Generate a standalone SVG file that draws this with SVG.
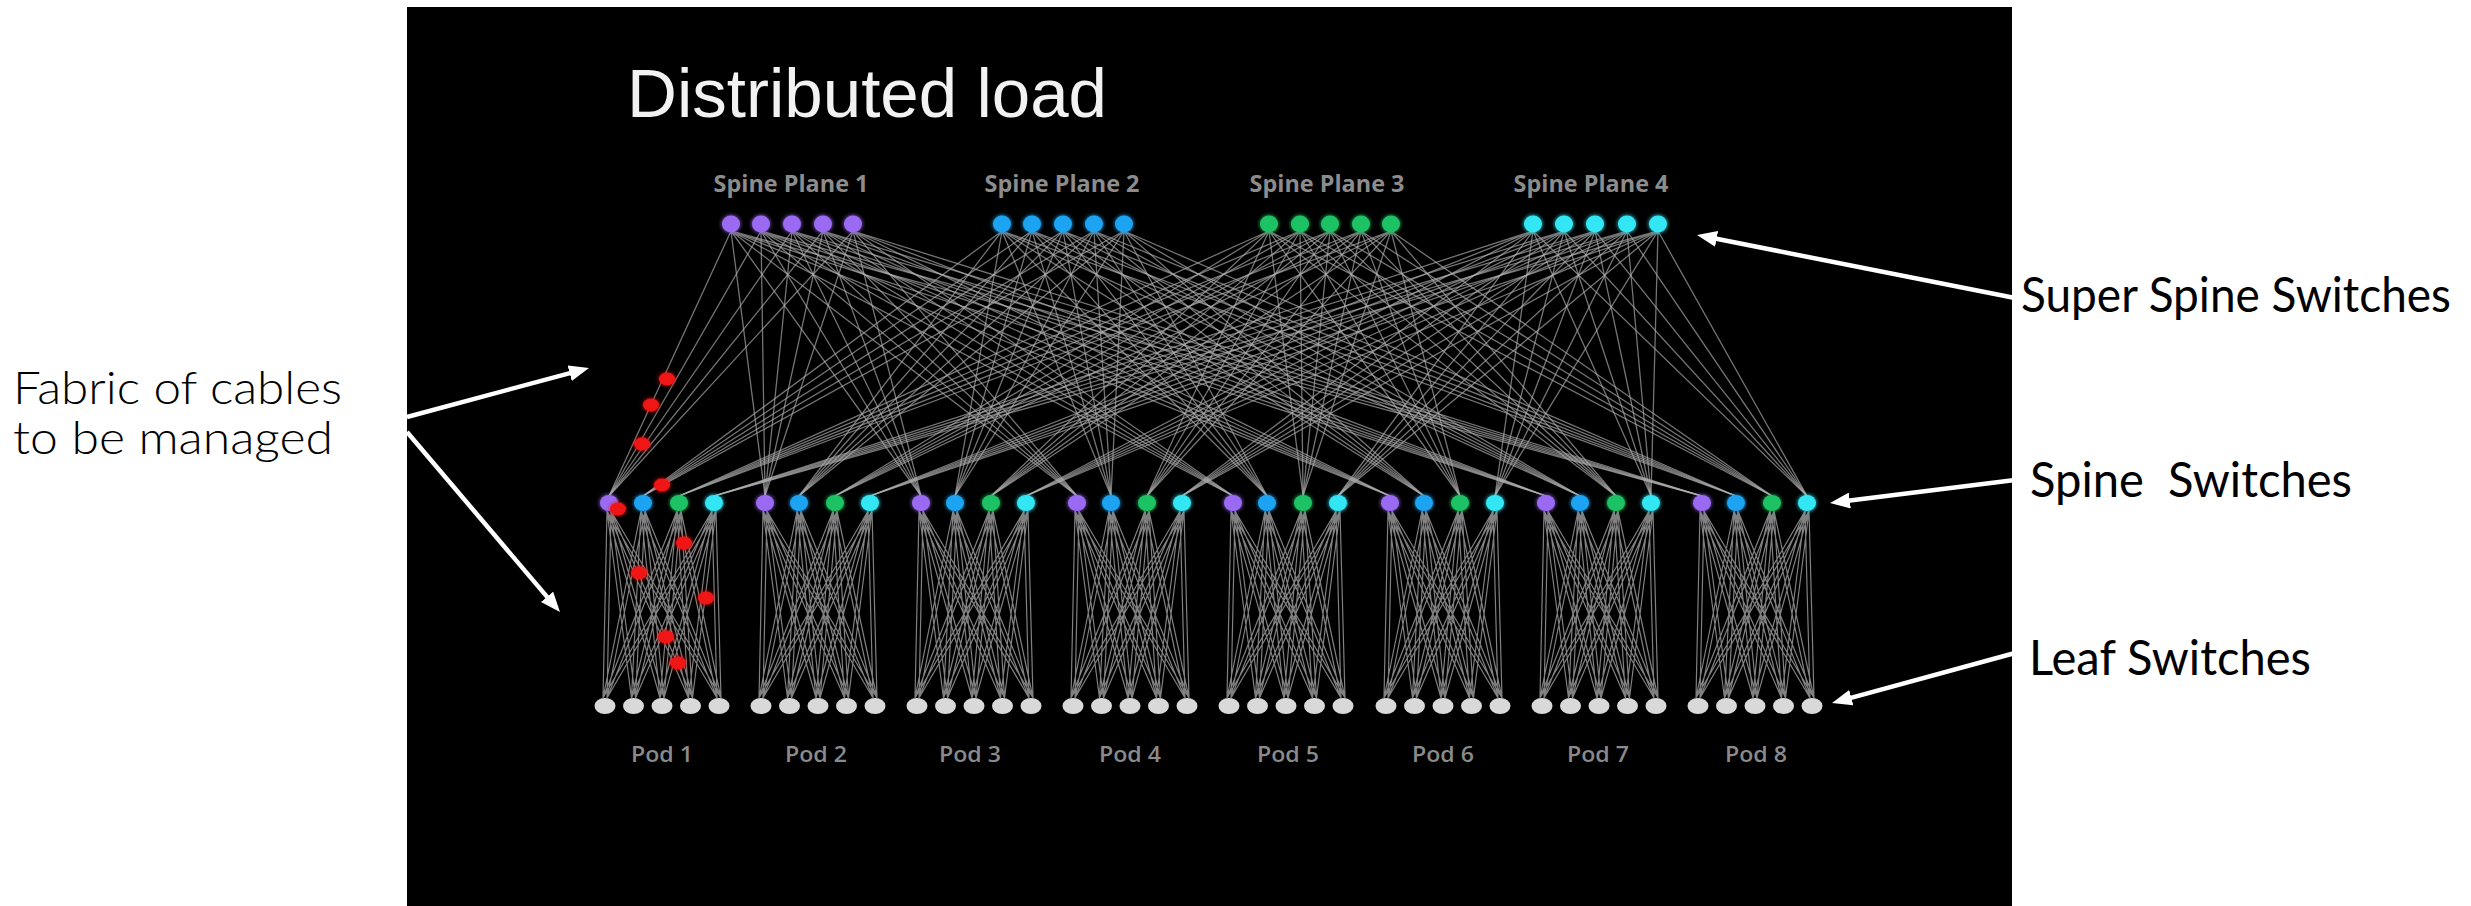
<svg xmlns="http://www.w3.org/2000/svg" xmlns:xlink="http://www.w3.org/1999/xlink" width="2471" height="906" viewBox="0 0 2471 906">
  <defs>
    <style>
      .cab{stroke:#b0b0b0;stroke-width:1.3;stroke-opacity:.66;fill:none;stroke-linecap:round}
      .mesh{stroke:#d0d0d0;stroke-width:1.2;stroke-opacity:.62;fill:none}
      .c1{fill:#9a6af2}
      .c2{fill:#1fa3f2}
      .c3{fill:#1fc264}
      .c4{fill:#33e6f4}
      .leaf{fill:#d9d9d9}
      .fault{fill:#f01414}
      .plane{font-family:"Open Sans","Liberation Sans",sans-serif;font-weight:700;font-size:23px;fill:#8c8c8c;text-anchor:middle}
      .pod{font-family:"Open Sans","Liberation Sans",sans-serif;font-weight:600;font-size:21px;fill:#8a8a8a;text-anchor:middle}
      .title{font-family:"Liberation Sans",Arial,sans-serif;font-size:69px;fill:#f2f2f2}
      .callout{font-family:Lato,"Open Sans",sans-serif;font-size:48px;fill:#000}
      .callout-light{font-family:Lato,"Open Sans",sans-serif;font-weight:300;font-size:46px;fill:#000}
      .arrow{stroke:#fff;stroke-width:4.5;fill:none;marker-end:url(#head)}
    </style>
    <marker id="head" markerUnits="userSpaceOnUse" markerWidth="20" markerHeight="16" refX="8" refY="8" orient="auto">
      <path d="M0,0 L20,8 L0,16 z" fill="#fff"/>
    </marker>
    <filter id="glow" x="-20%" y="-50%" width="140%" height="200%">
      <feGaussianBlur stdDeviation="2.2" result="b"/>
      <feMerge><feMergeNode in="b"/><feMergeNode in="SourceGraphic"/></feMerge>
    </filter>
    <!-- spine-to-leaf wiring of one pod, drawn around the pod centre (x = 0) -->
    <path id="podmesh" class="mesh" d="M-55 511L-59 698M-51 511L-55 698M-55 511L-30.5 698M-51 511L-26.5 698M-55 511L-2 698M-51 511L2 698M-55 511L26.5 698M-51 511L30.5 698M-55 511L55 698M-51 511L59 698M-21 511L-59 698M-17 511L-55 698M-21 511L-30.5 698M-17 511L-26.5 698M-21 511L-2 698M-17 511L2 698M-21 511L26.5 698M-17 511L30.5 698M-21 511L55 698M-17 511L59 698M15 511L-59 698M19 511L-55 698M15 511L-30.5 698M19 511L-26.5 698M15 511L-2 698M19 511L2 698M15 511L26.5 698M19 511L30.5 698M15 511L55 698M19 511L59 698M50 511L-59 698M54 511L-55 698M50 511L-30.5 698M54 511L-26.5 698M50 511L-2 698M54 511L2 698M50 511L26.5 698M54 511L30.5 698M50 511L55 698M54 511L59 698"/>
  </defs>

  <rect x="0" y="0" width="2471" height="906" fill="#fff"/>
  <rect id="panel" x="407" y="7" width="1605" height="899" fill="#000"/>

  <text class="title" x="627" y="117" textLength="480" lengthAdjust="spacingAndGlyphs">Distributed load</text>

  <g id="plane-labels">
    <text class="plane" x="791" y="192" textLength="155" lengthAdjust="spacingAndGlyphs">Spine Plane 1</text>
    <text class="plane" x="1062" y="192" textLength="155" lengthAdjust="spacingAndGlyphs">Spine Plane 2</text>
    <text class="plane" x="1327" y="192" textLength="155" lengthAdjust="spacingAndGlyphs">Spine Plane 3</text>
    <text class="plane" x="1591" y="192" textLength="155" lengthAdjust="spacingAndGlyphs">Spine Plane 4</text>
  </g>

  <g id="connectors">
    <!-- super spine (plane n) to spine switch n of every pod -->
    <g id="uplinks-plane1">
      <path class="cab" d="M731 231L609 496M731 231L765 496M731 231L921 496M731 231L1077 496M731 231L1233 496M731 231L1390 496M731 231L1546 496M731 231L1702 496"/>
      <path class="cab" d="M761 231L609 496M761 231L765 496M761 231L921 496M761 231L1077 496M761 231L1233 496M761 231L1390 496M761 231L1546 496M761 231L1702 496"/>
      <path class="cab" d="M792 231L609 496M792 231L765 496M792 231L921 496M792 231L1077 496M792 231L1233 496M792 231L1390 496M792 231L1546 496M792 231L1702 496"/>
      <path class="cab" d="M823 231L609 496M823 231L765 496M823 231L921 496M823 231L1077 496M823 231L1233 496M823 231L1390 496M823 231L1546 496M823 231L1702 496"/>
      <path class="cab" d="M853 231L609 496M853 231L765 496M853 231L921 496M853 231L1077 496M853 231L1233 496M853 231L1390 496M853 231L1546 496M853 231L1702 496"/>
    </g>
    <g id="uplinks-plane2">
      <path class="cab" d="M1002 231L643 496M1002 231L799 496M1002 231L955 496M1002 231L1111 496M1002 231L1267 496M1002 231L1424 496M1002 231L1580 496M1002 231L1736 496"/>
      <path class="cab" d="M1032 231L643 496M1032 231L799 496M1032 231L955 496M1032 231L1111 496M1032 231L1267 496M1032 231L1424 496M1032 231L1580 496M1032 231L1736 496"/>
      <path class="cab" d="M1063 231L643 496M1063 231L799 496M1063 231L955 496M1063 231L1111 496M1063 231L1267 496M1063 231L1424 496M1063 231L1580 496M1063 231L1736 496"/>
      <path class="cab" d="M1094 231L643 496M1094 231L799 496M1094 231L955 496M1094 231L1111 496M1094 231L1267 496M1094 231L1424 496M1094 231L1580 496M1094 231L1736 496"/>
      <path class="cab" d="M1124 231L643 496M1124 231L799 496M1124 231L955 496M1124 231L1111 496M1124 231L1267 496M1124 231L1424 496M1124 231L1580 496M1124 231L1736 496"/>
    </g>
    <g id="uplinks-plane3">
      <path class="cab" d="M1269 231L679 496M1269 231L835 496M1269 231L991 496M1269 231L1147 496M1269 231L1303 496M1269 231L1460 496M1269 231L1616 496M1269 231L1772 496"/>
      <path class="cab" d="M1300 231L679 496M1300 231L835 496M1300 231L991 496M1300 231L1147 496M1300 231L1303 496M1300 231L1460 496M1300 231L1616 496M1300 231L1772 496"/>
      <path class="cab" d="M1330 231L679 496M1330 231L835 496M1330 231L991 496M1330 231L1147 496M1330 231L1303 496M1330 231L1460 496M1330 231L1616 496M1330 231L1772 496"/>
      <path class="cab" d="M1361 231L679 496M1361 231L835 496M1361 231L991 496M1361 231L1147 496M1361 231L1303 496M1361 231L1460 496M1361 231L1616 496M1361 231L1772 496"/>
      <path class="cab" d="M1391 231L679 496M1391 231L835 496M1391 231L991 496M1391 231L1147 496M1391 231L1303 496M1391 231L1460 496M1391 231L1616 496M1391 231L1772 496"/>
    </g>
    <g id="uplinks-plane4">
      <path class="cab" d="M1533 231L714 496M1533 231L870 496M1533 231L1026 496M1533 231L1182 496M1533 231L1338 496M1533 231L1495 496M1533 231L1651 496M1533 231L1807 496"/>
      <path class="cab" d="M1564 231L714 496M1564 231L870 496M1564 231L1026 496M1564 231L1182 496M1564 231L1338 496M1564 231L1495 496M1564 231L1651 496M1564 231L1807 496"/>
      <path class="cab" d="M1595 231L714 496M1595 231L870 496M1595 231L1026 496M1595 231L1182 496M1595 231L1338 496M1595 231L1495 496M1595 231L1651 496M1595 231L1807 496"/>
      <path class="cab" d="M1627 231L714 496M1627 231L870 496M1627 231L1026 496M1627 231L1182 496M1627 231L1338 496M1627 231L1495 496M1627 231L1651 496M1627 231L1807 496"/>
      <path class="cab" d="M1658 231L714 496M1658 231L870 496M1658 231L1026 496M1658 231L1182 496M1658 231L1338 496M1658 231L1495 496M1658 231L1651 496M1658 231L1807 496"/>
    </g>
    <!-- spine to leaf wiring inside each pod -->
    <g id="pod-wiring">
      <use xlink:href="#podmesh" x="662"/>
      <use xlink:href="#podmesh" x="818"/>
      <use xlink:href="#podmesh" x="974"/>
      <use xlink:href="#podmesh" x="1130"/>
      <use xlink:href="#podmesh" x="1286"/>
      <use xlink:href="#podmesh" x="1443"/>
      <use xlink:href="#podmesh" x="1599"/>
      <use xlink:href="#podmesh" x="1755"/>
    </g>
  </g>

  <g id="super-spine" filter="url(#glow)">
    <g id="plane1" class="c1">
      <ellipse id="ss1-1" cx="731" cy="224" rx="9" ry="8.5"/><ellipse id="ss1-2" cx="761" cy="224" rx="9" ry="8.5"/><ellipse id="ss1-3" cx="792" cy="224" rx="9" ry="8.5"/><ellipse id="ss1-4" cx="823" cy="224" rx="9" ry="8.5"/><ellipse id="ss1-5" cx="853" cy="224" rx="9" ry="8.5"/>
    </g>
    <g id="plane2" class="c2">
      <ellipse id="ss2-1" cx="1002" cy="224" rx="9" ry="8.5"/><ellipse id="ss2-2" cx="1032" cy="224" rx="9" ry="8.5"/><ellipse id="ss2-3" cx="1063" cy="224" rx="9" ry="8.5"/><ellipse id="ss2-4" cx="1094" cy="224" rx="9" ry="8.5"/><ellipse id="ss2-5" cx="1124" cy="224" rx="9" ry="8.5"/>
    </g>
    <g id="plane3" class="c3">
      <ellipse id="ss3-1" cx="1269" cy="224" rx="9" ry="8.5"/><ellipse id="ss3-2" cx="1300" cy="224" rx="9" ry="8.5"/><ellipse id="ss3-3" cx="1330" cy="224" rx="9" ry="8.5"/><ellipse id="ss3-4" cx="1361" cy="224" rx="9" ry="8.5"/><ellipse id="ss3-5" cx="1391" cy="224" rx="9" ry="8.5"/>
    </g>
    <g id="plane4" class="c4">
      <ellipse id="ss4-1" cx="1533" cy="224" rx="9" ry="8.5"/><ellipse id="ss4-2" cx="1564" cy="224" rx="9" ry="8.5"/><ellipse id="ss4-3" cx="1595" cy="224" rx="9" ry="8.5"/><ellipse id="ss4-4" cx="1627" cy="224" rx="9" ry="8.5"/><ellipse id="ss4-5" cx="1658" cy="224" rx="9" ry="8.5"/>
    </g>
  </g>

  <g id="spine" filter="url(#glow)">
    <g id="pod1-spine"><ellipse class="c1" cx="609" cy="503" rx="9" ry="8"/><ellipse class="c2" cx="643" cy="503" rx="9" ry="8"/><ellipse class="c3" cx="679" cy="503" rx="9" ry="8"/><ellipse class="c4" cx="714" cy="503" rx="9" ry="8"/></g>
    <g id="pod2-spine"><ellipse class="c1" cx="765" cy="503" rx="9" ry="8"/><ellipse class="c2" cx="799" cy="503" rx="9" ry="8"/><ellipse class="c3" cx="835" cy="503" rx="9" ry="8"/><ellipse class="c4" cx="870" cy="503" rx="9" ry="8"/></g>
    <g id="pod3-spine"><ellipse class="c1" cx="921" cy="503" rx="9" ry="8"/><ellipse class="c2" cx="955" cy="503" rx="9" ry="8"/><ellipse class="c3" cx="991" cy="503" rx="9" ry="8"/><ellipse class="c4" cx="1026" cy="503" rx="9" ry="8"/></g>
    <g id="pod4-spine"><ellipse class="c1" cx="1077" cy="503" rx="9" ry="8"/><ellipse class="c2" cx="1111" cy="503" rx="9" ry="8"/><ellipse class="c3" cx="1147" cy="503" rx="9" ry="8"/><ellipse class="c4" cx="1182" cy="503" rx="9" ry="8"/></g>
    <g id="pod5-spine"><ellipse class="c1" cx="1233" cy="503" rx="9" ry="8"/><ellipse class="c2" cx="1267" cy="503" rx="9" ry="8"/><ellipse class="c3" cx="1303" cy="503" rx="9" ry="8"/><ellipse class="c4" cx="1338" cy="503" rx="9" ry="8"/></g>
    <g id="pod6-spine"><ellipse class="c1" cx="1390" cy="503" rx="9" ry="8"/><ellipse class="c2" cx="1424" cy="503" rx="9" ry="8"/><ellipse class="c3" cx="1460" cy="503" rx="9" ry="8"/><ellipse class="c4" cx="1495" cy="503" rx="9" ry="8"/></g>
    <g id="pod7-spine"><ellipse class="c1" cx="1546" cy="503" rx="9" ry="8"/><ellipse class="c2" cx="1580" cy="503" rx="9" ry="8"/><ellipse class="c3" cx="1616" cy="503" rx="9" ry="8"/><ellipse class="c4" cx="1651" cy="503" rx="9" ry="8"/></g>
    <g id="pod8-spine"><ellipse class="c1" cx="1702" cy="503" rx="9" ry="8"/><ellipse class="c2" cx="1736" cy="503" rx="9" ry="8"/><ellipse class="c3" cx="1772" cy="503" rx="9" ry="8"/><ellipse class="c4" cx="1807" cy="503" rx="9" ry="8"/></g>
  </g>

  <g id="leaves" class="leaf">
    <g id="pod1-leaves"><ellipse cx="605" cy="706" rx="10.5" ry="8"/><ellipse cx="633.5" cy="706" rx="10.5" ry="8"/><ellipse cx="662" cy="706" rx="10.5" ry="8"/><ellipse cx="690.5" cy="706" rx="10.5" ry="8"/><ellipse cx="719" cy="706" rx="10.5" ry="8"/></g>
    <g id="pod2-leaves"><ellipse cx="761" cy="706" rx="10.5" ry="8"/><ellipse cx="789.5" cy="706" rx="10.5" ry="8"/><ellipse cx="818" cy="706" rx="10.5" ry="8"/><ellipse cx="846.5" cy="706" rx="10.5" ry="8"/><ellipse cx="875" cy="706" rx="10.5" ry="8"/></g>
    <g id="pod3-leaves"><ellipse cx="917" cy="706" rx="10.5" ry="8"/><ellipse cx="945.5" cy="706" rx="10.5" ry="8"/><ellipse cx="974" cy="706" rx="10.5" ry="8"/><ellipse cx="1002.5" cy="706" rx="10.5" ry="8"/><ellipse cx="1031" cy="706" rx="10.5" ry="8"/></g>
    <g id="pod4-leaves"><ellipse cx="1073" cy="706" rx="10.5" ry="8"/><ellipse cx="1101.5" cy="706" rx="10.5" ry="8"/><ellipse cx="1130" cy="706" rx="10.5" ry="8"/><ellipse cx="1158.5" cy="706" rx="10.5" ry="8"/><ellipse cx="1187" cy="706" rx="10.5" ry="8"/></g>
    <g id="pod5-leaves"><ellipse cx="1229" cy="706" rx="10.5" ry="8"/><ellipse cx="1257.5" cy="706" rx="10.5" ry="8"/><ellipse cx="1286" cy="706" rx="10.5" ry="8"/><ellipse cx="1314.5" cy="706" rx="10.5" ry="8"/><ellipse cx="1343" cy="706" rx="10.5" ry="8"/></g>
    <g id="pod6-leaves"><ellipse cx="1386" cy="706" rx="10.5" ry="8"/><ellipse cx="1414.5" cy="706" rx="10.5" ry="8"/><ellipse cx="1443" cy="706" rx="10.5" ry="8"/><ellipse cx="1471.5" cy="706" rx="10.5" ry="8"/><ellipse cx="1500" cy="706" rx="10.5" ry="8"/></g>
    <g id="pod7-leaves"><ellipse cx="1542" cy="706" rx="10.5" ry="8"/><ellipse cx="1570.5" cy="706" rx="10.5" ry="8"/><ellipse cx="1599" cy="706" rx="10.5" ry="8"/><ellipse cx="1627.5" cy="706" rx="10.5" ry="8"/><ellipse cx="1656" cy="706" rx="10.5" ry="8"/></g>
    <g id="pod8-leaves"><ellipse cx="1698" cy="706" rx="10.5" ry="8"/><ellipse cx="1726.5" cy="706" rx="10.5" ry="8"/><ellipse cx="1755" cy="706" rx="10.5" ry="8"/><ellipse cx="1783.5" cy="706" rx="10.5" ry="8"/><ellipse cx="1812" cy="706" rx="10.5" ry="8"/></g>
  </g>

  <g id="pod-labels">
    <text class="pod" x="662" y="762" textLength="62" lengthAdjust="spacingAndGlyphs">Pod 1</text>
    <text class="pod" x="816" y="762" textLength="62" lengthAdjust="spacingAndGlyphs">Pod 2</text>
    <text class="pod" x="970" y="762" textLength="62" lengthAdjust="spacingAndGlyphs">Pod 3</text>
    <text class="pod" x="1130" y="762" textLength="62" lengthAdjust="spacingAndGlyphs">Pod 4</text>
    <text class="pod" x="1288" y="762" textLength="62" lengthAdjust="spacingAndGlyphs">Pod 5</text>
    <text class="pod" x="1443" y="762" textLength="62" lengthAdjust="spacingAndGlyphs">Pod 6</text>
    <text class="pod" x="1598" y="762" textLength="62" lengthAdjust="spacingAndGlyphs">Pod 7</text>
    <text class="pod" x="1756" y="762" textLength="62" lengthAdjust="spacingAndGlyphs">Pod 8</text>
  </g>

  <!-- cable faults highlighted in pod 1 -->
  <g id="cable-faults" class="fault" filter="url(#glow)">
    <ellipse cx="667" cy="379" rx="8" ry="6.5"/>
    <ellipse cx="651" cy="405" rx="8" ry="6.5"/>
    <ellipse cx="642" cy="444" rx="8" ry="6.5"/>
    <ellipse cx="662" cy="485" rx="8" ry="6.5"/>
    <ellipse cx="618" cy="509" rx="8" ry="6.5"/>
    <ellipse cx="684" cy="543" rx="8" ry="6.5"/>
    <ellipse cx="639" cy="573" rx="8" ry="6.5"/>
    <ellipse cx="706" cy="598" rx="8" ry="6.5"/>
    <ellipse cx="666" cy="637" rx="8" ry="6.5"/>
    <ellipse cx="678" cy="663" rx="8" ry="6.5"/>
  </g>

  <g id="callouts">
    <g id="callout-fabric">
      <text class="callout-light" x="13" y="404" textLength="329" lengthAdjust="spacingAndGlyphs">Fabric of cables</text>
      <text class="callout-light" x="13" y="454" textLength="320" lengthAdjust="spacingAndGlyphs">to be managed</text>
      <line class="arrow" x1="407" y1="417" x2="577.4" y2="371.1"/>
      <line class="arrow" x1="407" y1="432" x2="552.2" y2="602.9"/>
    </g>
    <g id="callout-super-spine">
      <text class="callout" x="2021" y="312" textLength="430" lengthAdjust="spacingAndGlyphs">Super Spine Switches</text>
      <line class="arrow" x1="2015" y1="298" x2="1708.8" y2="237.3"/>
    </g>
    <g id="callout-spine">
      <text class="callout" x="2030" y="497" textLength="322" lengthAdjust="spacingAndGlyphs" xml:space="preserve">Spine  Switches</text>
      <line class="arrow" x1="2015" y1="480" x2="1841.9" y2="501.5"/>
    </g>
    <g id="callout-leaf">
      <text class="callout" x="2029" y="675" textLength="282" lengthAdjust="spacingAndGlyphs">Leaf Switches</text>
      <line class="arrow" x1="2015" y1="653" x2="1843.6" y2="699.8"/>
    </g>
  </g>
</svg>
